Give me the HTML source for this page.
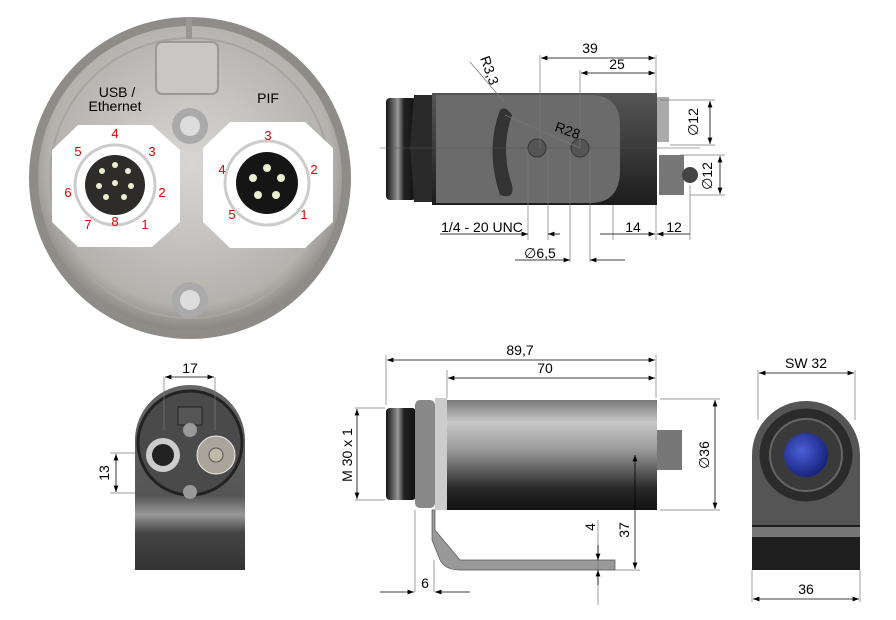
<!DOCTYPE html>
<html><head><meta charset="utf-8"><style>
html,body{margin:0;padding:0;background:#fff;}
svg{display:block;font-family:"Liberation Sans",sans-serif;}
</style></head><body>
<svg width="896" height="620" viewBox="0 0 896 620" xmlns="http://www.w3.org/2000/svg">
<defs>
<radialGradient id="disk" cx="0.5" cy="0.45" r="0.55"><stop offset="0" stop-color="#d8d6d3"/><stop offset="0.85" stop-color="#b5b2ae"/><stop offset="1" stop-color="#8a8782"/></radialGradient>
<linearGradient id="cyl" x1="0" y1="0" x2="0" y2="1"><stop offset="0" stop-color="#777"/><stop offset="0.2" stop-color="#c8c8c8"/><stop offset="0.45" stop-color="#9a9a9a"/><stop offset="0.8" stop-color="#2a2a2a"/><stop offset="1" stop-color="#111"/></linearGradient>
<linearGradient id="dark" x1="0" y1="0" x2="0" y2="1"><stop offset="0" stop-color="#555"/><stop offset="0.5" stop-color="#3a3a3a"/><stop offset="1" stop-color="#1c1c1c"/></linearGradient>
<linearGradient id="lens" x1="0" y1="0" x2="1" y2="0"><stop offset="0" stop-color="#111"/><stop offset="0.4" stop-color="#999"/><stop offset="0.6" stop-color="#222"/><stop offset="1" stop-color="#111"/></linearGradient>
<linearGradient id="front" x1="0" y1="0" x2="0" y2="1"><stop offset="0" stop-color="#666"/><stop offset="0.6" stop-color="#555"/><stop offset="0.7" stop-color="#999"/><stop offset="0.8" stop-color="#444"/><stop offset="1" stop-color="#333"/></linearGradient>
<radialGradient id="blue" cx="0.4" cy="0.4" r="0.6"><stop offset="0" stop-color="#4b5fd8"/><stop offset="1" stop-color="#1a2580"/></radialGradient>
<marker id="a" markerWidth="8" markerHeight="6" refX="8" refY="3" orient="auto-start-reverse"><path d="M0,0 L8,3 L0,6z" fill="#000"/></marker>
</defs>

<!-- Top-left disk -->
<circle cx="190" cy="178" r="161" fill="#8f8c88"/>
<circle cx="190" cy="178" r="152" fill="url(#disk)"/>
<circle cx="190" cy="178" r="140" fill="none" stroke="#a8a5a1" stroke-width="2"/>
<rect x="156" y="42" width="62" height="52" rx="6" fill="#c9c7c4" stroke="#999" stroke-width="2"/>
<rect x="186" y="17" width="6" height="22" fill="#9a9792"/>
<polygon points="78,125 152,125 180,150 180,222 152,247 78,247 52,222 52,150" fill="#fff"/>
<polygon points="230,122 305,122 333,148 333,222 305,248 230,248 203,222 203,148" fill="#fff"/>
<circle cx="115" cy="185" r="40" fill="none" stroke="#ccc" stroke-width="3"/>
<circle cx="267" cy="183" r="42" fill="none" stroke="#ccc" stroke-width="3"/>
<circle cx="115" cy="185" r="30" fill="#2e2c2b"/>
<g fill="#e8f0d0"><circle cx="115" cy="165" r="3"/><circle cx="128" cy="171" r="3"/><circle cx="102" cy="171" r="3"/><circle cx="115" cy="183" r="3"/><circle cx="99" cy="186" r="3"/><circle cx="131" cy="186" r="3"/><circle cx="106" cy="197" r="3"/><circle cx="124" cy="197" r="3"/></g>
<circle cx="267" cy="183" r="31" fill="#151515"/>
<g fill="#e8f0d0"><circle cx="267" cy="168" r="4"/><circle cx="253" cy="178" r="4"/><circle cx="281" cy="178" r="4"/><circle cx="258" cy="195" r="4"/><circle cx="276" cy="195" r="4"/></g>
<circle cx="190" cy="126" r="18" fill="#aaa"/><circle cx="190" cy="126" r="10" fill="#ddd"/>
<circle cx="190" cy="300" r="18" fill="#aaa"/><circle cx="190" cy="300" r="10" fill="#ddd"/>
<g font-size="14" fill="#000" text-anchor="middle"><text x="117" y="97">USB /</text><text x="115" y="111">Ethernet</text><text x="268" y="103">PIF</text></g>
<g font-size="13" fill="#d00" text-anchor="middle">
<text x="115" y="138">4</text><text x="152" y="156">3</text><text x="78" y="156">5</text><text x="162" y="197">2</text><text x="68" y="197">6</text><text x="88" y="229">7</text><text x="115" y="226">8</text><text x="145" y="229">1</text>
<text x="268" y="140">3</text><text x="314" y="174">2</text><text x="222" y="174">4</text><text x="232" y="219">5</text><text x="304" y="219">1</text></g>

<!-- Top middle: side view -->
<rect x="386" y="98" width="30" height="102" rx="4" fill="url(#lens)"/>
<polygon points="414,95 432,95 436,147 432,202 414,202 410,147" fill="#2a2a2a"/>
<rect x="432" y="93" width="225" height="112" fill="url(#dark)"/>
<path d="M436,95 H590 Q620,95 620,125 V170 Q620,203 590,203 H436 Z" fill="#6b6b6b"/>
<path d="M500,110 Q485,150 500,195 Q515,200 512,185 Q500,150 512,115 Q505,105 500,110z" fill="#333"/>
<circle cx="537" cy="148" r="9" fill="#555" stroke="#333"/>
<circle cx="580" cy="148" r="9" fill="#555" stroke="#333"/>
<rect x="657" y="97" width="12" height="45" fill="#aaa"/>
<rect x="659" y="155" width="25" height="40" fill="#777"/>
<circle cx="690" cy="175" r="8" fill="#444"/>
<line x1="380" y1="148" x2="700" y2="148" stroke="#555" stroke-width="0.6"/>
<g stroke="#777" stroke-width="0.7" fill="none">
<line x1="540" y1="55" x2="540" y2="148"/><line x1="580" y1="70" x2="580" y2="148"/><line x1="656" y1="55" x2="656" y2="93"/>
<line x1="470" y1="62" x2="505" y2="103"/><line x1="505" y1="115" x2="580" y2="148"/>
<line x1="660" y1="100" x2="715" y2="100"/><line x1="670" y1="145" x2="715" y2="145"/>
<line x1="680" y1="155" x2="725" y2="155"/><line x1="690" y1="195" x2="725" y2="195"/>
<line x1="528" y1="150" x2="528" y2="240"/><line x1="548" y1="150" x2="548" y2="240"/>
<line x1="570" y1="150" x2="570" y2="262"/><line x1="590" y1="150" x2="590" y2="262"/>
<line x1="613" y1="205" x2="613" y2="240"/><line x1="656" y1="205" x2="656" y2="240"/><line x1="690" y1="185" x2="690" y2="240"/>
</g>
<g stroke="#000" stroke-width="0.8">
<line x1="541" y1="58" x2="655" y2="58" marker-start="url(#a)" marker-end="url(#a)"/>
<line x1="581" y1="73" x2="655" y2="73" marker-start="url(#a)" marker-end="url(#a)"/>
<line x1="710" y1="101" x2="710" y2="144" marker-start="url(#a)" marker-end="url(#a)"/>
<line x1="720" y1="156" x2="720" y2="194" marker-start="url(#a)" marker-end="url(#a)"/>
<line x1="600" y1="234" x2="655" y2="234" marker-end="url(#a)"/>
<line x1="657" y1="234" x2="690" y2="234" marker-start="url(#a)"/>
<line x1="440" y1="234" x2="528" y2="234" marker-end="url(#a)"/><line x1="548" y1="234" x2="560" y2="234" marker-start="url(#a)"/>
<line x1="515" y1="260" x2="570" y2="260" marker-end="url(#a)"/><line x1="590" y1="260" x2="625" y2="260" marker-start="url(#a)"/>
</g>
<g font-size="14" fill="#000" text-anchor="middle">
<text x="590" y="53">39</text><text x="617" y="69">25</text><text x="566" y="135" transform="rotate(20 566 135)">R28</text>
<text x="485" y="72" transform="rotate(70 485 72)">R3,3</text>
<text x="482" y="232">1/4 - 20 UNC</text><text x="540" y="258">∅6,5</text><text x="633" y="232">14</text><text x="674" y="232">12</text>
<text x="698" y="122" transform="rotate(-90 698 122)">∅12</text><text x="712" y="176" transform="rotate(-90 712 176)">∅12</text></g>

<!-- Bottom left front -->
<path d="M135,440 A55,55 0 0 1 245,440 V570 H135 Z" fill="url(#front)"/>
<circle cx="190" cy="443" r="52" fill="#4a4a4a" stroke="#222" stroke-width="3"/>
<rect x="178" y="407" width="24" height="18" fill="#555" stroke="#222"/>
<circle cx="163" cy="455" r="17" fill="#ccc"/><circle cx="163" cy="455" r="11" fill="#222"/>
<circle cx="216" cy="455" r="19" fill="#aaa49a" stroke="#eee"/><circle cx="216" cy="455" r="7" fill="#c0b8a8" stroke="#555"/>
<circle cx="190" cy="430" r="7" fill="#999"/><circle cx="190" cy="492" r="7" fill="#999"/>
<g stroke="#777" stroke-width="0.7"><line x1="164" y1="377" x2="164" y2="430"/><line x1="215" y1="377" x2="215" y2="430"/><line x1="110" y1="453" x2="135" y2="453"/><line x1="110" y1="493" x2="135" y2="493"/></g>
<g stroke="#000" stroke-width="0.8"><line x1="165" y1="377" x2="214" y2="377" marker-start="url(#a)" marker-end="url(#a)"/><line x1="116" y1="454" x2="116" y2="492" marker-start="url(#a)" marker-end="url(#a)"/></g>
<g font-size="14" fill="#000" text-anchor="middle"><text x="190" y="373">17</text><text x="109" y="473" transform="rotate(-90 109 473)">13</text></g>

<!-- Bottom middle -->
<rect x="386" y="408" width="30" height="92" rx="4" fill="url(#lens)"/>
<rect x="415" y="400" width="20" height="108" rx="5" fill="#888"/>
<rect x="435" y="398" width="12" height="112" fill="#ccc"/>
<rect x="447" y="400" width="210" height="110" fill="url(#cyl)"/>
<rect x="657" y="430" width="25" height="40" fill="#777"/>
<path d="M435,510 V530 L460,560 H615 V570 H460 Q445,570 440,560 L432,540 V510z" fill="#999" stroke="#555" stroke-width="0.7"/>
<g stroke="#777" stroke-width="0.7">
<line x1="386" y1="355" x2="386" y2="405"/><line x1="447" y1="370" x2="447" y2="398"/><line x1="656" y1="355" x2="656" y2="398"/>
<line x1="355" y1="408" x2="385" y2="408"/><line x1="355" y1="500" x2="385" y2="500"/>
<line x1="660" y1="399" x2="720" y2="399"/><line x1="660" y1="510" x2="720" y2="510"/>
<line x1="615" y1="570" x2="640" y2="570"/><line x1="415" y1="510" x2="415" y2="592"/><line x1="434" y1="560" x2="434" y2="592"/>
<line x1="598" y1="520" x2="598" y2="605"/></g>
<g stroke="#000" stroke-width="0.8">
<line x1="387" y1="360" x2="655" y2="360" marker-start="url(#a)" marker-end="url(#a)"/>
<line x1="448" y1="378" x2="655" y2="378" marker-start="url(#a)" marker-end="url(#a)"/>
<line x1="357" y1="409" x2="357" y2="499" marker-start="url(#a)" marker-end="url(#a)"/>
<line x1="715" y1="400" x2="715" y2="509" marker-start="url(#a)" marker-end="url(#a)"/>
<line x1="635" y1="455" x2="635" y2="569" marker-start="url(#a)" marker-end="url(#a)"/>
<line x1="380" y1="592" x2="414" y2="592" marker-end="url(#a)"/><line x1="435" y1="592" x2="470" y2="592" marker-start="url(#a)"/>
<line x1="598" y1="545" x2="598" y2="560" marker-end="url(#a)"/><line x1="598" y1="585" x2="598" y2="570" marker-end="url(#a)"/>
</g>
<g font-size="14" fill="#000" text-anchor="middle">
<text x="520" y="355">89,7</text><text x="545" y="373">70</text><text x="425" y="588">6</text>
<text x="352" y="455" transform="rotate(-90 352 455)">M 30 x 1</text><text x="709" y="455" transform="rotate(-90 709 455)">∅36</text>
<text x="629" y="530" transform="rotate(-90 629 530)">37</text><text x="595" y="527" transform="rotate(-90 595 527)">4</text></g>

<!-- Bottom right -->
<path d="M752,455 A54,54 0 0 1 860,455 V570 H752 Z" fill="#555"/>
<rect x="752" y="525" width="108" height="45" fill="#1e1e1e"/><rect x="752" y="527" width="108" height="10" fill="#777"/>
<circle cx="806" cy="455" r="48" fill="#2b2b2b" stroke="#555" stroke-width="3"/>
<circle cx="806" cy="455" r="36" fill="#3a3a3a" stroke="#666" stroke-width="2"/>
<circle cx="806" cy="455" r="22" fill="url(#blue)"/>
<g stroke="#777" stroke-width="0.7"><line x1="758" y1="370" x2="758" y2="420"/><line x1="855" y1="370" x2="855" y2="420"/><line x1="752" y1="570" x2="752" y2="602"/><line x1="860" y1="570" x2="860" y2="602"/></g>
<g stroke="#000" stroke-width="0.8"><line x1="759" y1="373" x2="854" y2="373" marker-start="url(#a)" marker-end="url(#a)"/><line x1="753" y1="599" x2="859" y2="599" marker-start="url(#a)" marker-end="url(#a)"/></g>
<g font-size="14" fill="#000" text-anchor="middle"><text x="806" y="368">SW 32</text><text x="806" y="594">36</text></g>
</svg>
</body></html>
